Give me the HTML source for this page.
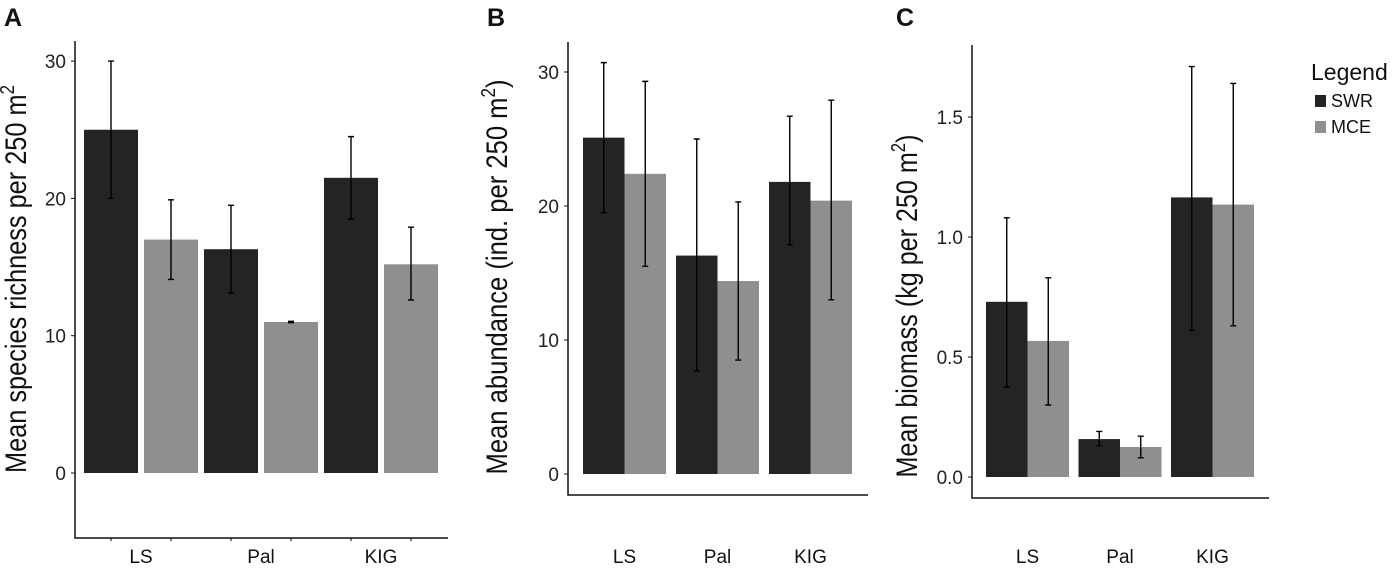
<!DOCTYPE html>
<html><head><meta charset="utf-8"><style>
html,body{margin:0;padding:0;background:#fff;}
svg{display:block;font-family:"Liberation Sans",Arial,sans-serif;}
</style></head><body>
<svg id="chart" width="1400" height="570" viewBox="0 0 1400 570"></svg>
<script>
const categories = ["LS","Pal","KIG"];
const richSWR = [25.0, 16.3, 21.5];
const richSWRlo = [20.0, 13.1, 18.5];
const richSWRhi = [30.0, 19.5, 24.5];
const richMCE = [17.0, 11.0, 15.2];
const richMCElo = [14.1, 10.95, 12.6];
const richMCEhi = [19.9, 11.05, 17.9];
const abuSWR = [25.1, 16.3, 21.8];
const abuSWRlo = [19.5, 7.7, 17.1];
const abuSWRhi = [30.7, 25.0, 26.7];
const abuMCE = [22.4, 14.4, 20.4];
const abuMCElo = [15.5, 8.5, 13.0];
const abuMCEhi = [29.3, 20.3, 27.9];
const bioSWR = [0.73, 0.158, 1.165];
const bioSWRlo = [0.375, 0.13, 0.61];
const bioSWRhi = [1.08, 0.19, 1.71];
const bioMCE = [0.567, 0.125, 1.135];
const bioMCElo = [0.30, 0.08, 0.63];
const bioMCEhi = [0.83, 0.17, 1.64];
const richTicks = [0, 10, 20, 30];
const abuTicks = [0, 10, 20, 30];
const bioTicks = [0, 0.5, 1.0, 1.5];
const bioTickLabels = ["0.0","0.5","1.0","1.5"];

const NS="http://www.w3.org/2000/svg";
const svg=document.getElementById('chart');
function mk(tag,attrs,parent){const e=document.createElementNS(NS,tag);for(const k in attrs)e.setAttribute(k,attrs[k]);(parent||svg).appendChild(e);return e;}

const panels=[
 {id:'a',letter:'A',lx:4,ax:75,top:41,bot:538,right:448,y0:473,ppu:13.73,ticks:richTicks,tl:richTicks.map(String),
  s:richSWR,slo:richSWRlo,shi:richSWRhi,m:richMCE,mlo:richMCElo,mhi:richMCEhi,
  x0:84,bw:54,gap:6,gstep:120,inner:60,title:'Mean species richness per 250 m',sup:'2',tx:26,ty:279,len:388,paren:false,xt:true},
 {id:'b',letter:'B',lx:487,ax:568,top:42,bot:495,right:868,y0:474,ppu:13.4,ticks:abuTicks,tl:abuTicks.map(String),
  s:abuSWR,slo:abuSWRlo,shi:abuSWRhi,m:abuMCE,mlo:abuMCElo,mhi:abuMCEhi,
  x0:583,bw:41.5,gap:0,gstep:93,inner:41.5,title:'Mean abundance (ind. per 250 m',sup:'2',tx:507,ty:277,len:395,paren:true,xt:false},
 {id:'c',letter:'C',lx:896,ax:972,top:45,bot:498,right:1269,y0:477,ppu:240,ticks:bioTicks,tl:bioTickLabels,
  s:bioSWR,slo:bioSWRlo,shi:bioSWRhi,m:bioMCE,mlo:bioMCElo,mhi:bioMCEhi,
  x0:986,bw:41.5,gap:0,gstep:92.5,inner:41.5,title:'Mean biomass (kg per 250 m',sup:'2',tx:917,ty:306,len:343,paren:true,xt:false}
];

panels.forEach(p=>{
  const g=mk('g',{});
  
  
  const y=v=>p.y0-v*p.ppu;
  const L=mk('text',{x:p.lx,y:26,'font-size':25,'font-weight':'bold',fill:'#111'},g);L.textContent=p.letter;
  
  categories.forEach((c,i)=>{
    const gx=p.x0+i*p.gstep;
    [[p.s,p.slo,p.shi,'#242424',0,'swr'],[p.m,p.mlo,p.mhi,'#8f8f8f',p.inner,'mce']].forEach(([v,lo,hi,col,off,nm])=>{
      const bx=gx+off;
      const r=mk('rect',{x:bx,y:y(v[i]),width:p.bw,height:y(0)-y(v[i]),fill:col},g);
      
      
      const cx=bx+p.bw/2;
      const eb=mk('path',{d:`M${cx} ${y(hi[i])}V${y(lo[i])}M${cx-3} ${y(hi[i])}H${cx+3}M${cx-3} ${y(lo[i])}H${cx+3}`,stroke:'#000','stroke-width':1.4,fill:'none'},g);
      
      
      if(p.xt){const t=mk('line',{x1:cx,x2:cx,y1:p.bot,y2:p.bot+3,stroke:'#000','stroke-width':1},g);
        }
    });
    const lbl=mk('text',{x:gx+(p.inner+p.bw)/2,y:563,'font-size':19,'text-anchor':'middle',fill:'#111'},g);
    lbl.textContent=c;
    
    
  });
  const ax=mk('path',{d:`M${p.ax} ${p.top}V${p.bot}H${p.right}`,stroke:'#111','stroke-width':1.5,fill:'none'},g);
  
  p.ticks.forEach((t,k)=>{
    const tk=mk('line',{x1:p.ax-4,x2:p.ax,y1:y(t),y2:y(t),stroke:'#111','stroke-width':1},g);
    
    const tl=mk('text',{x:p.ax-9,y:y(t)+7,'font-size':19,'text-anchor':'end',fill:'#222'},g);
    tl.textContent=p.tl[k];
    
  });
  const tt=mk('text',{x:0,y:0,'font-size':30,'text-anchor':'middle',fill:'#111',textLength:p.len,lengthAdjust:'spacingAndGlyphs',transform:`translate(${p.tx},${p.ty}) rotate(-90)`},g);
  
  tt.appendChild(document.createTextNode(p.title));
  const sp=mk('tspan',{'font-size':20,dy:-12},tt);sp.textContent=p.sup;
  if(p.paren){const cl=mk('tspan',{dy:12},tt);cl.textContent=')';}
});

const lg=mk('g',{});


const lt=mk('text',{x:1311,y:80,'font-size':23,fill:'#111'},lg);lt.textContent='Legend';

[['SWR','#242424',95],['MCE','#8f8f8f',121]].forEach(([n,c,yy])=>{
  const e=mk('g',{},lg);
  
  
  mk('rect',{x:1315,y:yy,width:11,height:12,fill:c},e);
  const t=mk('text',{x:1331,y:yy+12,'font-size':18,fill:'#111'},e);t.textContent=n;
});
</script>
</body></html>
